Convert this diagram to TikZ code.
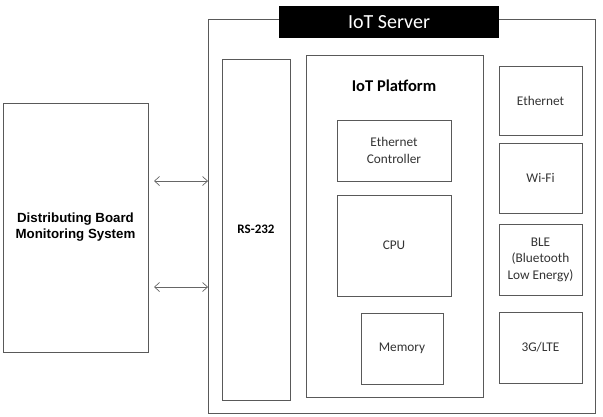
\documentclass[tikz,border=0pt]{standalone}
\usepackage{fontspec}
\setmainfont{Carlito}
\newfontfamily\arialf{Liberation Sans}
\usetikzlibrary{arrows.meta}
\begin{document}
\begin{tikzpicture}[x=1pt,y=-1pt,
  box/.style={draw=black!65,line width=0.9pt,fill=white,inner sep=0pt,align=center,font=\fontsize{13.3}{16.5}\selectfont,text=black!80},
  conn/.style={draw=black!60,line width=0.7pt,{Straight Barb[length=5pt,width=9pt]}-{Straight Barb[length=5pt,width=9pt]}}]
\useasboundingbox (0,0) rectangle (603,416);
% outer server box
\node[box,minimum width=387pt,minimum height=394pt] (server) at (402,216.5) {};
\node[fill=black,text=white,inner sep=0pt,minimum width=220pt,minimum height=32pt,font=\fontsize{20}{24}\selectfont] (title) at (389,22) {IoT Server};
% DBMS
\node[box,minimum width=145pt,minimum height=249pt,font=\arialf\bfseries\fontsize{13.3}{16}\selectfont,text=black] (dbms) at (75.5,227.5) {Distributing Board\\Monitoring System};
% RS-232
\node[box,minimum width=68pt,minimum height=341pt,font=\bfseries\fontsize{13}{15}\selectfont,text=black] (rs) at (256,229.5) {RS-232};
% IoT Platform
\node[box,minimum width=177pt,minimum height=342pt] (plat) at (394.5,226) {};
\node[font=\bfseries\fontsize{16.5}{19}\selectfont,text=black] (platlbl) at (394,86) {IoT Platform};
\node[box,minimum width=114pt,minimum height=61pt] (ethc) at (394,150.5) {Ethernet\\Controller};
\node[box,minimum width=114pt,minimum height=101pt] (cpu) at (394,245.5) {CPU};
\node[box,minimum width=82pt,minimum height=71pt] (mem) at (402,348.5) {Memory};
% right column
\node[box,minimum width=83pt,minimum height=69pt] (eth) at (540.5,100.5) {Ethernet};
\node[box,minimum width=83pt,minimum height=70pt] (wifi) at (540.5,178) {Wi-Fi};
\node[box,minimum width=83pt,minimum height=71pt] (ble) at (540.5,259.5) {BLE\\(Bluetooth\\Low Energy)};
\node[box,minimum width=83pt,minimum height=71pt] (lte) at (540.5,347.5) {3G/LTE};
% arrows
\coordinate (a1) at (154,181);
\coordinate (a2) at (154,287);
\draw[conn] (a1) -- (a1 -| server.west);
\draw[conn] (a2) -- (a2 -| server.west);
\end{tikzpicture}
\end{document}
